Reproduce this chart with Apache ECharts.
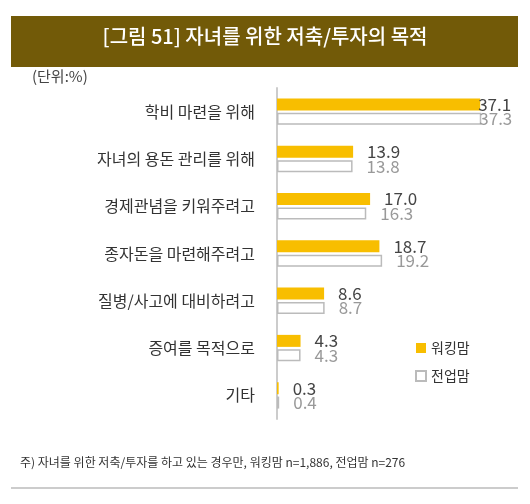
<!DOCTYPE html><html><head><meta charset="utf-8"><script src="https://cdn.jsdelivr.net/npm/echarts@6/dist/echarts.min.js"></script></head><body style="margin:0"><div id="c" style="width:530px;height:504px"></div><script>
const categories=['학비 마련을 위해','자녀의 용돈 관리를 위해','경제관념을 키워주려고','종자돈을 마련해주려고','질병/사고에 대비하려고','증여를 목적으로','기타'];
const working=[37.1,13.9,17.0,18.7,8.6,4.3,0.3];
const homemaker=[37.3,13.8,16.3,19.2,8.7,4.3,0.4];
const F='"Noto Sans CJK KR"';
function mk(arr){return arr.map(v=>v>30?{value:v,label:{offset:[-16,0]}}:v);}
const c=echarts.init(document.getElementById('c'));
c.setOption({animation:false,textStyle:{fontFamily:F},
graphic:[{type:'rect',shape:{x:11,y:16,width:507,height:51},style:{fill:'#725a08'}},
{type:'text',left:'center',top:26,style:{text:'[그림 51] 자녀를 위한 저축/투자의 목적',fill:'#fff',font:'500 20px '+F}},
{type:'text',left:32,top:69,style:{text:'(단위:%)',fill:'#444',font:'15px '+F}},
{type:'text',left:20,top:456,style:{text:'주) 자녀를 위한 저축/투자를 하고 있는 경우만, 워킹맘 n=1,886, 전업맘 n=276',fill:'#333',font:'12px '+F}},
{type:'line',shape:{x1:11,y1:488,x2:518,y2:488},style:{stroke:'#999',lineWidth:1}}],
legend:{orient:'vertical',left:410,top:336,itemGap:14,itemWidth:10,itemHeight:10,icon:'rect',textStyle:{fontSize:14,color:'#333'},data:['워킹맘','전업맘']},
grid:{left:277,top:88,width:230,height:331},
xAxis:{type:'value',min:0,max:42,show:false},
yAxis:{type:'category',inverse:true,data:categories,axisTick:{show:false},axisLine:{lineStyle:{color:'#ccc',width:2}},axisLabel:{fontSize:16,color:'#333',margin:22}},
series:[{name:'워킹맘',type:'bar',data:mk(working),barWidth:12,barGap:'20%',itemStyle:{color:'#f8be00'},label:{show:true,position:'right',distance:14,fontSize:17,color:'#444',formatter:p=>p.value.toFixed(1)}},
{name:'전업맘',type:'bar',data:mk(homemaker),barWidth:12,itemStyle:{color:'#fff',borderColor:'#bbb',borderWidth:1.5},label:{show:true,position:'right',distance:14,fontSize:17,color:'#999',formatter:p=>p.value.toFixed(1)}}]});
</script></body></html>
